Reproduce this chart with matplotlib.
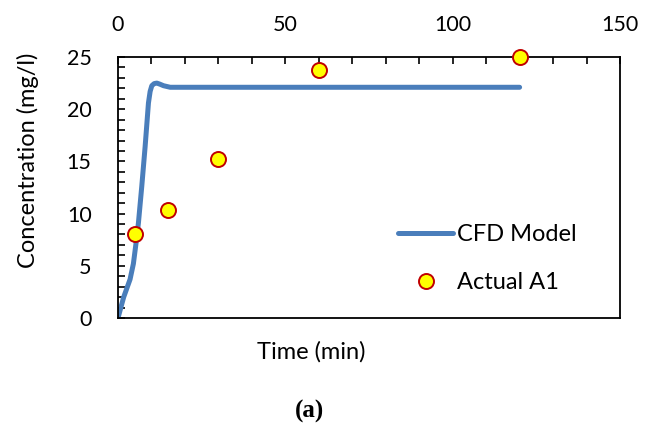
import matplotlib
matplotlib.use("Agg")
import matplotlib.pyplot as plt
from matplotlib.ticker import MultipleLocator

# data
model_t = [0, 1.7, 3.6, 4.6, 5.4, 6.1, 7.1, 8.1, 9.1, 9.6, 10.1, 10.8, 11.6, 12.5, 13.6, 15.6, 120]
model_c = [0, 2.0, 3.7, 5.2, 7.2, 9.1, 12.6, 16.4, 20.6, 21.7, 22.25, 22.45, 22.5, 22.4, 22.25, 22.1, 22.1]
actual_t = [5, 15, 30, 60, 120]
actual_c = [8.0, 10.3, 15.2, 23.8, 25.0]
x_ticks = [0, 50, 100, 150]
y_ticks = [0, 5, 10, 15, 20, 25]

plt.rcParams['font.family'] = ['Lato', 'DejaVu Sans']

fig = plt.figure(figsize=(6.58, 4.26), dpi=100)
W, H = 658, 426
ax = fig.add_axes([118 / W, 1 - 318 / H, (620 - 118) / W, (318 - 57) / H])

ax.plot(model_t, model_c, color='#4A7EBB', lw=3.6, solid_capstyle='round',
        solid_joinstyle='round', label='CFD Model', zorder=2)
ax.plot(actual_t, actual_c, ls='none', marker='o', ms=10.8, mfc='#FFFF00',
        mec='#C00000', mew=1.4, label='Actual A1', zorder=3, clip_on=False)

ax.set_xlim(0, 150)
ax.set_ylim(0, 25)
ax.set_xticks(x_ticks)
ax.set_yticks(y_ticks)
ax.xaxis.set_minor_locator(MultipleLocator(10))
ax.yaxis.set_minor_locator(MultipleLocator(1))
ax.xaxis.tick_top()
ax.tick_params(axis='x', which='both', direction='in', top=True, bottom=False,
               labeltop=True, labelbottom=False, length=5, width=1.2,
               labelsize=15.5, pad=16)
ax.tick_params(axis='y', which='both', direction='in', left=True, right=False,
               length=5, width=1.2, labelsize=15.5, pad=19)
for s in ax.spines.values():
    s.set_linewidth(1.3)
    s.set_color('black')

fig.text(28 / W, 1 - 160 / H, 'Concentration (mg/l)', fontsize=17, rotation=90,
         ha='center', va='center')
fig.text(311 / W, 1 - 352 / H, 'Time (min)', fontsize=17, ha='center', va='center')
fig.text(309 / W, 1 - 411 / H, '(a)', fontsize=18, ha='center', va='center',
         family='Liberation Serif', weight='bold')

leg = ax.legend(loc='upper left', bbox_to_anchor=(398 / W, 1 - 224 / H),
                bbox_transform=fig.transFigure, frameon=False, fontsize=17,
                handlelength=2.33, labelspacing=1.15, handletextpad=0.17,
                borderpad=0, borderaxespad=0)

fig.savefig('out.png', dpi=100)
